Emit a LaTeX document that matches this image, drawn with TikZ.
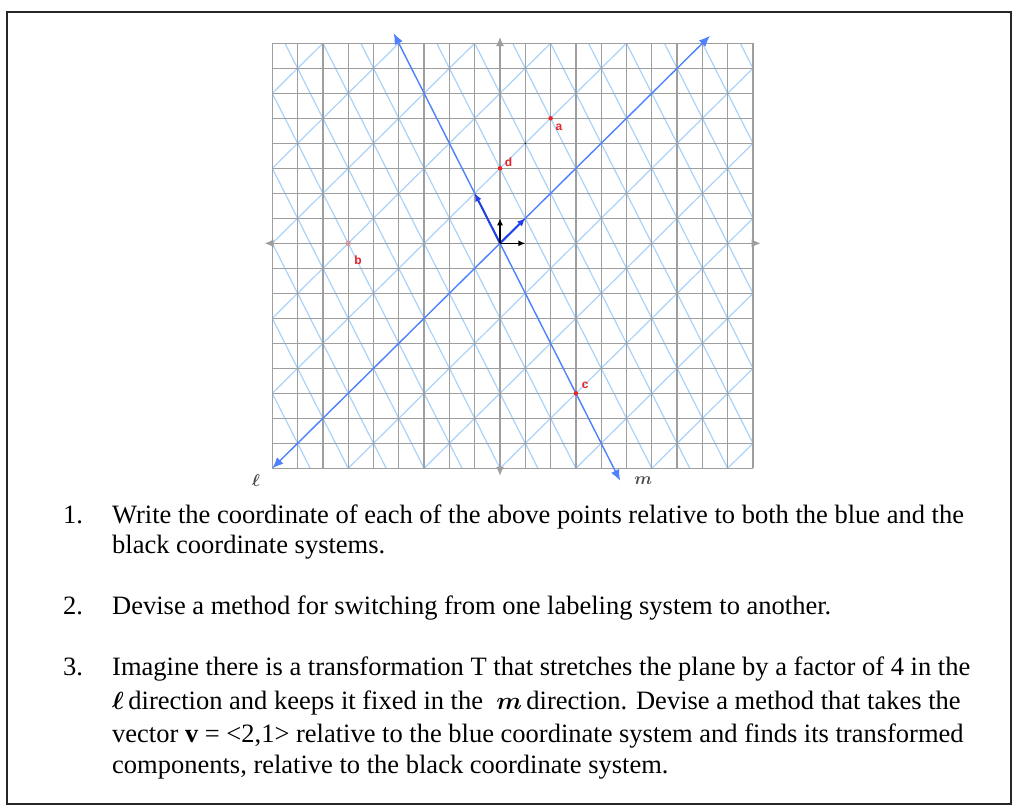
\documentclass[tikz,border=0pt]{standalone}
\usepackage{fontspec}
\setmainfont{Liberation Serif}
\setsansfont{Liberation Sans}
\usepackage{bm}
\usetikzlibrary{arrows.meta}
\usetikzlibrary{positioning}

\definecolor{gridgray}{RGB}{158,158,158}
\definecolor{latticeblue}{RGB}{170,210,250}
\definecolor{axisblue}{RGB}{78,128,255}
\definecolor{basisblue}{RGB}{30,64,230}
\definecolor{pointred}{RGB}{232,36,36}

\tikzset{
    qtext/.style={anchor=base west, inner sep=0pt, font=\fontsize{26.5}{30}\selectfont},
    ptdot/.style={circle, fill=pointred, inner sep=0pt, minimum size=4.5pt},
    ptlabel/.style={text=pointred, inner sep=0pt, font=\fontsize{12}{14}\selectfont\sffamily\bfseries},
    axlabel/.style={text=gray!60!black, inner sep=0pt, font=\fontsize{17}{20}\selectfont},
    grayaxis/.style={gridgray, line width=1.3pt, {Latex[length=9pt,width=8pt]}-{Latex[length=9pt,width=8pt]}},
    blueaxis/.style={axisblue, line width=1.3pt, {Latex[length=11pt,width=9pt]}-{Latex[length=11pt,width=9pt]}},
    basisvec/.style={basisblue, line width=2pt, -{Latex[length=8pt,width=7pt]}},
    blackvec/.style={black, line width=1.3pt, -{Latex[length=7pt,width=6pt]}}
}

\begin{document}
\begin{tikzpicture}[x=1pt,y=-1pt]

\useasboundingbox (0,0) rectangle (1013,807);

% Draws the frame
\draw[line width=1.5pt, black!85] (7,12) rectangle (1011,804);

\begin{scope}[shift={(500,243.3)}, x=25.3pt, y=25pt]

% Draws the blue lattice
\begin{scope}
    \clip (-9,-9) rectangle (10,8);
    \foreach \k in {-6,...,6}
        \draw[latticeblue, line width=1.2pt] ({3*\k-20},-20) -- ({3*\k+20},20);
    \foreach \k in {-9,...,9}
        \draw[latticeblue, line width=1.2pt] (-12,{3*\k+24}) -- (12,{3*\k-24});
\end{scope}

% Draws the black grid
\foreach \x in {-9,...,10}
    \draw[gridgray, line width=1.3pt] (\x,-9) -- (\x,8);
\foreach \y in {-9,...,8}
    \draw[gridgray, line width=1.3pt] (-9,\y) -- (10,\y);

% Axes of both systems
\coordinate (O) at (0,0);
\coordinate (xA) at (-9.3,0);
\coordinate (xB) at (10.3,0);
\coordinate (yA) at (0,-9.3);
\coordinate (yB) at (0,8.25);
\coordinate (lA) at (-9,-9);
\coordinate (lB) at (8.3,8.3);
\coordinate (mA) at (-4.2,8.4);
\coordinate (mB) at (4.75,-9.5);

\draw[grayaxis] (xA) -- (xB);
\draw[grayaxis] (yA) -- (yB);
\draw[blueaxis] (lA) -- (lB);
\draw[blueaxis] (mA) -- (mB);

\node[axlabel, below left=6pt and 12pt of lA] (lname) {$\bm{\ell}$};
\node[axlabel, right=14pt of mB] (mname) {$\bm{m}$};

% Basis vectors
\coordinate (e1) at (1,0);
\coordinate (e2) at (0,1);
\coordinate (u1) at (1,1);
\coordinate (u2) at (-1,2);

\draw[basisvec] (O) -- (u1);
\draw[basisvec] (O) -- (u2);
\draw[blackvec] (O) -- (e1);
\draw[blackvec] (O) -- (e2);

% Points
\node[ptdot] (a) at (2,5) {};
\node[ptdot, fill=none, draw=pointred!55, line width=0.8pt] (b) at (-6,0) {};
\node[ptdot] (c) at (3,-6) {};
\node[ptdot] (d) at (0,3) {};
\node[circle, fill=black, inner sep=0pt, minimum size=1.6pt] (dot) at (1,4) {};

\node[ptlabel, below right=4pt and 3pt of a] (alabel) {a};
\node[ptlabel, below right=10pt and 4pt of b] (blabel) {b};
\node[ptlabel, above right=3pt and 4pt of c] (clabel) {c};
\node[ptlabel, above right=0pt and 3pt of d] (dlabel) {d};

\end{scope}

% The questions
\node[qtext] (n1) at (63,523) {1.};
\node[qtext] (q1a) at (112,523) {Write the coordinate of each of the above points relative to both the blue and the};
\node[qtext] (q1b) at (112,553) {black coordinate systems.};

\node[qtext] (n2) at (63,614) {2.};
\node[qtext] (q2a) at (112,614) {Devise a method for switching from one labeling system to another.};

\node[qtext] (n3) at (63,675) {3.};
\node[qtext] (q3a) at (112,675) {Imagine there is a transformation T that stretches the plane by a factor of 4 in the};
\node[qtext] (q3b) at (112,709) {$\bm{\ell}$\,direction and keeps it fixed in the~ $\bm{m}$\,direction. Devise a method that takes the};
\node[qtext] (q3c) at (112,742) {vector \textbf{v} = <2,1> relative to the blue coordinate system and finds its transformed};
\node[qtext] (q3d) at (112,773) {components, relative to the black coordinate system.};

\end{tikzpicture}
\end{document}
